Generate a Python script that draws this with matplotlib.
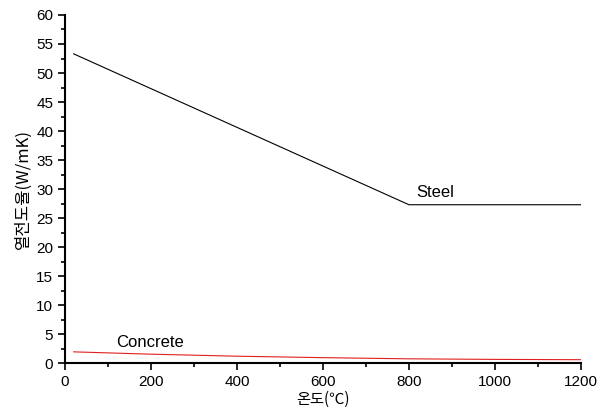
import numpy as np
import matplotlib
matplotlib.use('Agg')
import matplotlib.pyplot as plt
from matplotlib.ticker import MultipleLocator

plt.rcParams['font.family'] = ['Liberation Sans', 'Noto Sans CJK KR', 'DejaVu Sans']

# 강재 / 콘크리트 열전도율 (W/mK)
steel_temp = [20, 800, 1200]
steel_k = [53.3, 27.3, 27.3]

concrete_temp = [20, 200, 400, 600, 800, 1000, 1200]
concrete_k = [1.95, 1.55, 1.2, 0.95, 0.75, 0.65, 0.6]

fig = plt.figure(figsize=(5.97, 4.16), dpi=100)
ax = fig.add_axes([0.109, 0.127, 0.864, 0.837])

ax.plot(steel_temp, steel_k, color='black', lw=0.8)
ax.plot(concrete_temp, concrete_k, color='#e02020', lw=0.8)

ax.text(818, 29.4, 'Steel', fontsize=12, va='center')
ax.text(118, 3.6, 'Concrete', fontsize=12, va='center')

ax.set_xlim(0, 1200)
ax.set_ylim(0, 60)
ax.xaxis.set_major_locator(MultipleLocator(200))
ax.xaxis.set_minor_locator(MultipleLocator(100))
ax.yaxis.set_major_locator(MultipleLocator(5))
ax.yaxis.set_minor_locator(MultipleLocator(2.5))
ax.tick_params(which='both', direction='out', width=1.2, labelsize=11)
ax.tick_params(which='major', length=5)
ax.tick_params(which='minor', length=3)

for s in ['top', 'right']:
    ax.spines[s].set_visible(False)
for s in ['left', 'bottom']:
    ax.spines[s].set_linewidth(1.5)

ax.set_xlabel('온도(℃)', fontsize=11, family=['Noto Sans CJK KR', 'DejaVu Sans'],
              labelpad=1)
ax.set_ylabel('열전도율(W/mK)', fontsize=12, family=['Noto Sans CJK KR', 'DejaVu Sans'],
              labelpad=3)

fig.savefig('out.png', dpi=100)
